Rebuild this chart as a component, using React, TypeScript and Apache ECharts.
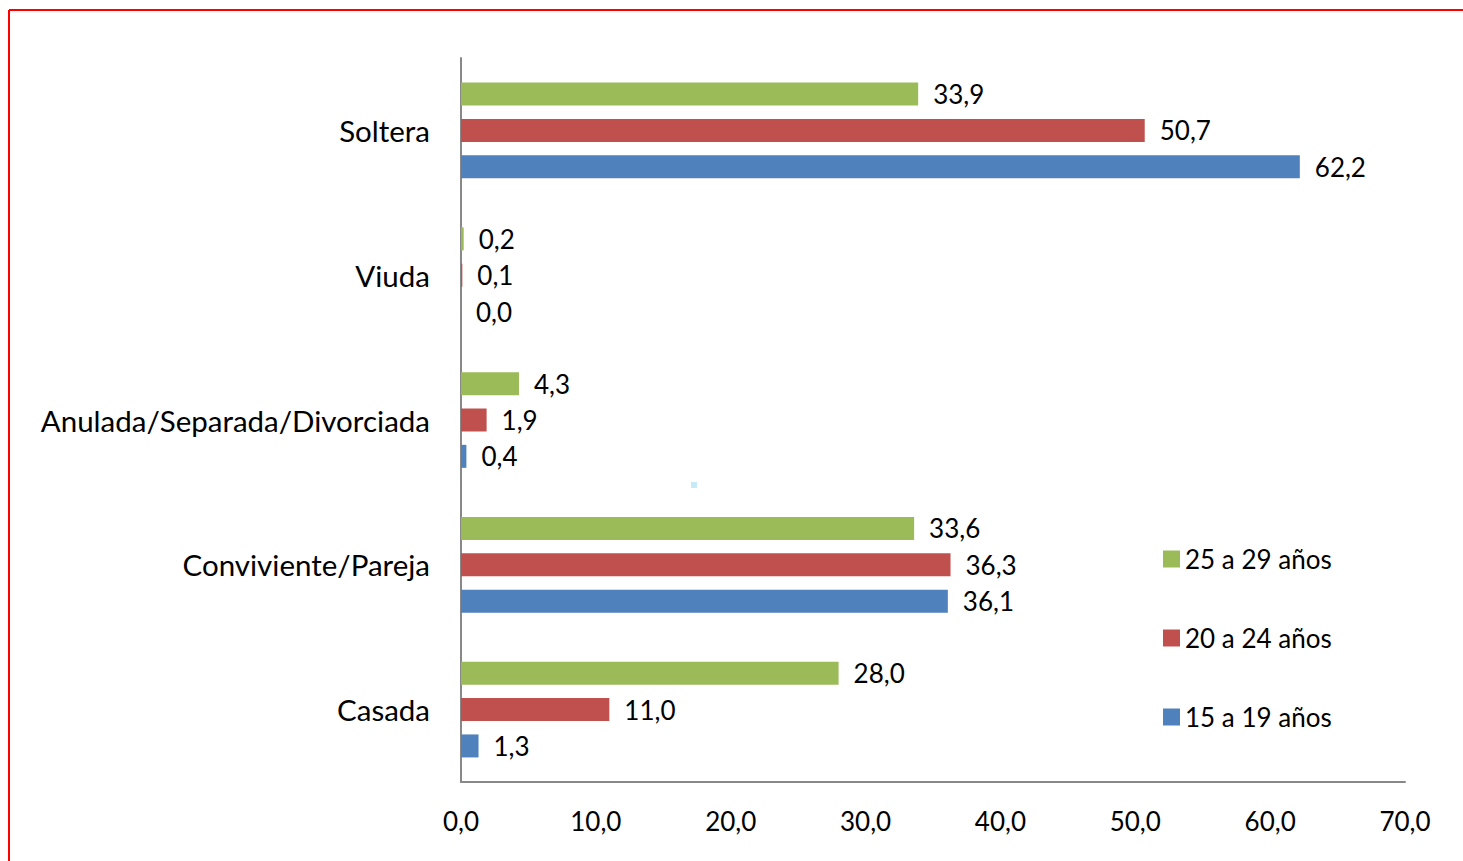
import React, { useEffect, useRef } from "react";
import * as echarts from "echarts";

const categories = ["Casada", "Conviviente/Pareja", "Anulada/Separada/Divorciada", "Viuda", "Soltera"];
const seriesNames = ["25 a 29 años", "20 a 24 años", "15 a 19 años"];
const values25a29 = [28.0, 33.6, 4.3, 0.2, 33.9];
const values20a24 = [11.0, 36.3, 1.9, 0.1, 50.7];
const values15a19 = [1.3, 36.1, 0.4, 0.0, 62.2];
const colors = ["#9BBB59", "#C0504D", "#4F81BD"];

const FONT = "Lato";
const fmt = (v: number) => v.toFixed(1).replace(".", ",");

export default function App() {
  const ref = useRef<HTMLDivElement>(null);
  useEffect(() => {
    if (!ref.current) return;
    const chart = echarts.init(ref.current, null, { renderer: "svg" });
    const data = [values25a29, values20a24, values15a19];
    chart.setOption({
      animation: false,
      backgroundColor: "#ffffff",
      textStyle: { fontFamily: FONT },
      grid: { left: 461, right: 58, top: 58, bottom: 79, containLabel: false },
      legend: {
        orient: "vertical",
        left: 1158,
        top: 541,
        itemWidth: 17,
        itemHeight: 17,
        itemGap: 53,
        data: seriesNames,
        textStyle: { fontFamily: FONT, fontSize: 26, color: "#000" },
        icon: "rect",
      },
      xAxis: {
        type: "value",
        min: 0,
        max: 70,
        interval: 10,
        axisLine: { show: true, lineStyle: { color: "#888888", width: 2 } },
        axisTick: { show: false },
        splitLine: { show: false },
        axisLabel: {
          margin: 26,
          fontFamily: FONT,
          fontSize: 26,
          color: "#000",
          formatter: (v: number) => fmt(v),
        },
      },
      yAxis: {
        type: "category",
        data: categories,
        axisLine: { show: true, lineStyle: { color: "#888888", width: 2 } },
        axisTick: { show: false },
        axisLabel: { margin: 31, fontFamily: FONT, fontSize: 29.5, color: "#000" },
      },
      series: seriesNames.map((name, i) => ({
        name,
        type: "bar",
        data: data[i],
        barWidth: 23,
        barGap: "58%",
        itemStyle: { color: colors[i] },
        label: {
          show: true,
          position: "right",
          distance: 15,
          fontFamily: FONT,
          fontSize: 26,
          color: "#000",
          formatter: (p: any) => fmt(p.value),
        },
      })),
      graphic: [
        { type: "line", shape: { x1: 9, y1: 10, x2: 1463, y2: 10 }, style: { stroke: "#ff0000", lineWidth: 2 } },
        { type: "line", shape: { x1: 9, y1: 10, x2: 9, y2: 861 }, style: { stroke: "#ff0000", lineWidth: 2 } },
        { type: "rect", shape: { x: 691, y: 482, width: 6, height: 6 }, style: { fill: "#c6ebf8" } },
      ],
    });
    return () => chart.dispose();
  }, []);
  return (
    <div
      ref={ref}
      style={{ position: "absolute", left: 0, top: 0, width: 1463, height: 861 }}
    />
  );
}
